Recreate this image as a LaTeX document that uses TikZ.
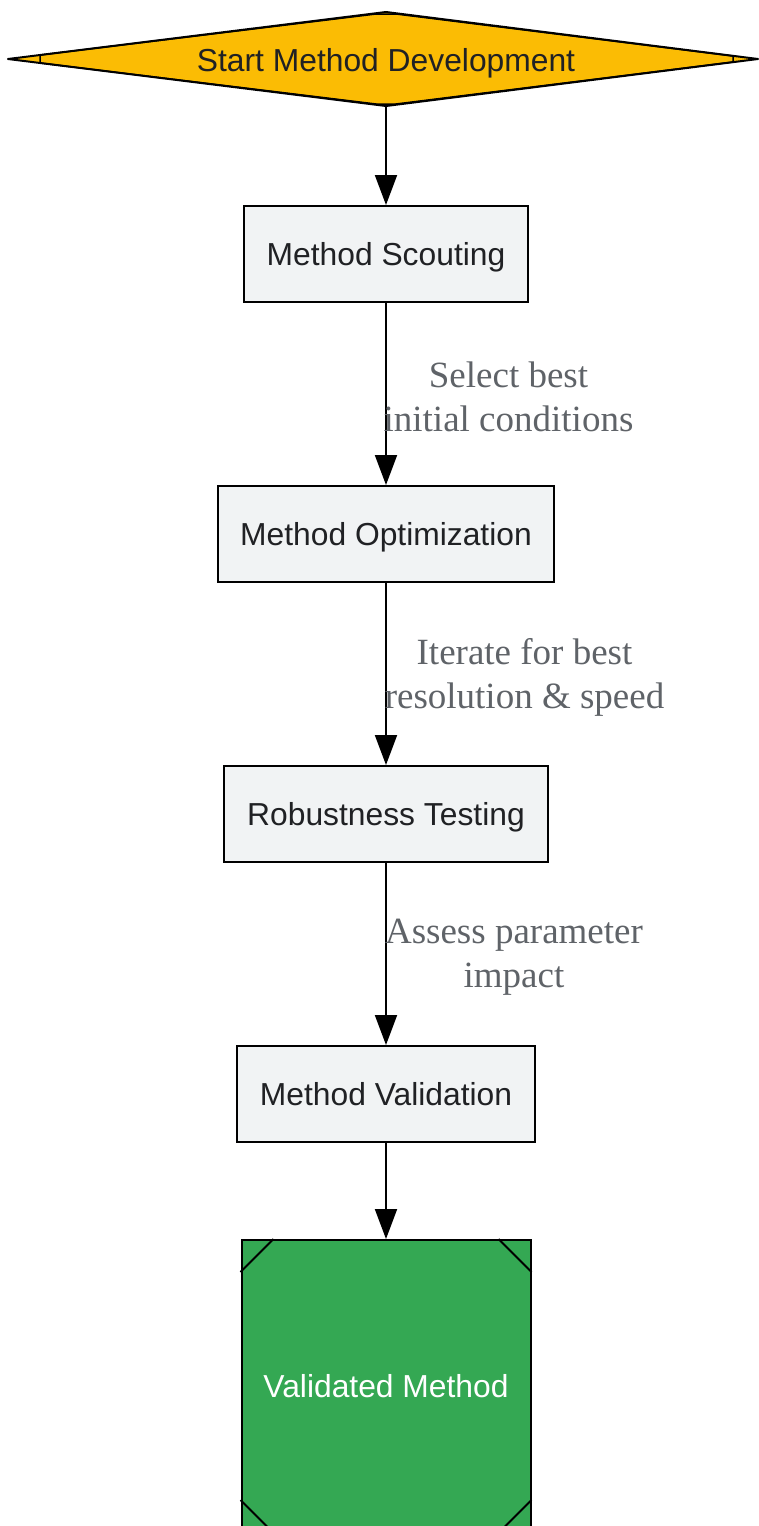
\documentclass[tikz,border=0pt]{standalone}
\usepackage{fontspec}
\setmainfont{Liberation Serif}
\newfontfamily\nodefont{Liberation Sans}
\usetikzlibrary{arrows.meta,calc}
\definecolor{boxfill}{HTML}{F1F3F4}
\definecolor{boxtext}{HTML}{202124}
\definecolor{labtext}{HTML}{5F6368}
\definecolor{startfill}{HTML}{FBBC04}
\definecolor{endfill}{HTML}{34A853}
\tikzset{
  stepbox/.style={draw=black, line width=2pt, fill=boxfill, rectangle, minimum height=96pt,
    inner sep=0pt, text depth=0pt, font=\nodefont\fontsize{31.8}{38}\selectfont, text=boxtext},
  conn/.style={draw=black, line width=2pt, -{Triangle[width=22pt,length=30pt]}},
  edgelab/.style={font=\fontsize{37}{44}\selectfont, text=labtext, align=center, inner sep=0pt},
}
\begin{document}
\begin{tikzpicture}[x=1pt,y=-1pt]
\useasboundingbox (0,0) rectangle (758,1526);
% start diamond
\draw[line width=2pt, fill=startfill, line join=round] (8,59) -- (386,12) -- (758,59) -- (386,106) -- cycle;
\draw[line width=1.5pt, line join=round] (40,55) -- (376,14) -- (396,14) -- (733,56) -- (733,62) -- (396,104) -- (376,104) -- (40,63) -- cycle;
\node[font=\nodefont\fontsize{31.8}{38}\selectfont, text=boxtext, text depth=0pt, inner sep=0pt] (start) at (386,60) {Start Method Development};
\coordinate (startb) at (386,106);
% boxes
\node[stepbox, minimum width=284pt] (scout) at (386,254) {Method Scouting};
\node[stepbox, minimum width=336pt] (opt) at (386,534) {Method Optimization};
\node[stepbox, minimum width=324pt] (rob) at (386,814) {Robustness Testing};
\node[stepbox, minimum width=298pt] (val) at (386,1094) {Method Validation};
% end
\node[draw=black, line width=2pt, fill=endfill, rectangle, minimum width=289pt, minimum height=292pt,
  inner sep=0pt, font=\nodefont\fontsize{31.8}{38}\selectfont, text=white] (done) at (386,1386) {Validated Method};
\draw[line width=2pt] ($(done.north west)+(0,33)$) -- ($(done.north west)+(33,0)$);
\draw[line width=2pt] ($(done.north east)+(0,33)$) -- ($(done.north east)+(-33,0)$);
\draw[line width=2pt] ($(done.south west)+(0,-33)$) -- ($(done.south west)+(33,0)$);
\draw[line width=2pt] ($(done.south east)+(0,-33)$) -- ($(done.south east)+(-33,0)$);
% connectors
\draw[conn] (startb) -- (scout.north);
\draw[conn] (scout.south) -- (opt.north);
\draw[conn] (opt.south) -- (rob.north);
\draw[conn] (rob.south) -- (val.north);
\draw[conn] (val.south) -- (done.north);
% labels
\node[edgelab] (l1) at (508.5,397) {Select best\\initial conditions};
\node[edgelab] (l2) at (524.5,677) {Iterate for best\\resolution \& speed};
\node[edgelab] (l3) at (514,957) {Assess parameter\\impact};
\end{tikzpicture}
\end{document}
